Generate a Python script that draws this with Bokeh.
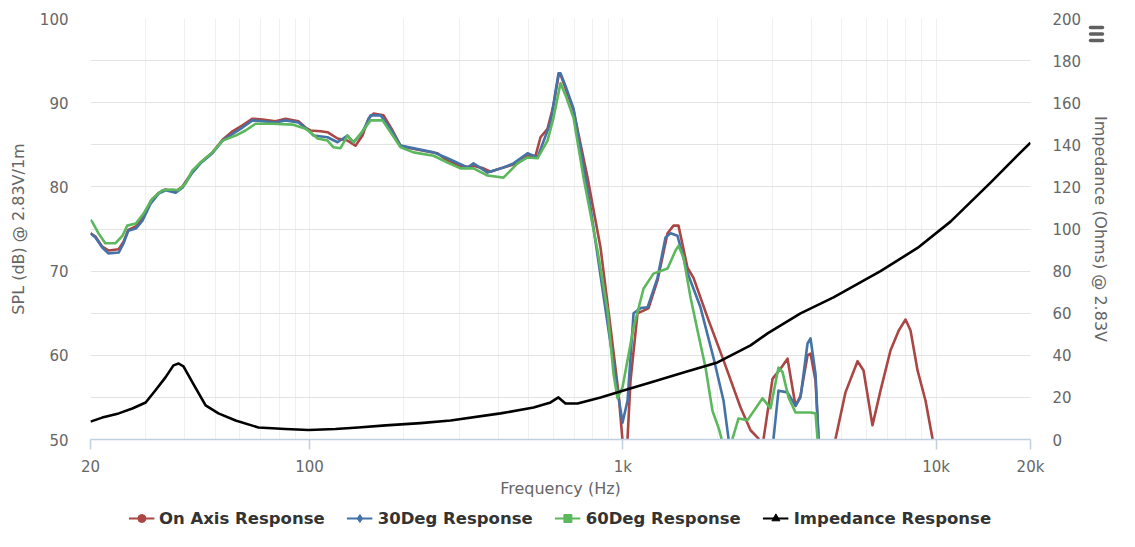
import math
from bokeh.plotting import figure
from bokeh.models import Range1d, FixedTicker, Legend, LegendItem
from bokeh.layouts import column, row
from bokeh.core.properties import value
from bokeh.embed import file_html
from bokeh.resources import INLINE

# ---------------- data ----------------
X_TICKS = [20, 100, 1000, 10000, 20000]
X_TICK_LABELS = ["20", "100", "1k", "10k", "20k"]
SPL_TICKS = [50, 60, 70, 80, 90, 100]
OHM_TICKS = [0, 20, 40, 60, 80, 100, 120, 140, 160, 180, 200]

ON_FREQ = [20, 20.74, 21.8, 22.8, 24.6, 25.5, 26.4, 27.9, 29.3, 31.1, 33.0, 34.7, 37.4, 39.3, 42.3,
           44.9, 49.0, 52.8, 56.8, 61.1, 65.8, 70.8, 77.9, 83.8, 92.2, 97.1, 100.7, 108.5, 114.1,
           122.9, 132.2, 140.2, 147.6, 154.2, 160.0, 172.3, 184.1, 195.2, 210.0, 238.0, 256.2,
           275.7, 303.3, 319.3, 333.7, 359.1, 378.1, 406.9, 461.1, 496.3, 526.4, 546.1, 574.9,
           600.8, 623.3, 632.5, 656.2, 696.0, 771.4, 848.7, 913.4, 968.7, 997.6, 1012, 1035, 1058,
           1114, 1164, 1208, 1290, 1389, 1451, 1505, 1608, 1681, 1863, 2096, 2375, 2556, 2711,
           2760, 2813, 3004, 3185, 3354, 3557, 3690, 3885, 3972, 4120, 4212, 4450, 4773, 5135,
           5611, 5864, 6262, 6642, 7151, 7584, 7985, 8283, 8721, 9248, 9736, 9900]
ON_DB = [74.5, 74.1, 72.9, 72.45, 72.6, 73.5, 74.9, 75.3, 76.25, 78.3, 79.3, 79.7, 79.45, 80.05, 81.8,
         82.9, 84.1, 85.6, 86.6, 87.3, 88.1, 88.0, 87.8, 88.1, 87.8, 87.05, 86.7, 86.6, 86.5,
         85.75, 85.5, 84.9, 86.1, 88.1, 88.7, 88.5, 86.7, 84.9, 84.6, 84.2, 84.0,
         83.1, 82.5, 82.4, 82.5, 82.2, 81.8, 82.2, 82.8, 83.7, 83.7, 85.9, 86.9,
         89.7, 93.2, 93.35, 91.7, 89.1, 81.1, 72.8, 63.3, 55.5, 49.9, 40, 50.1, 57.0,
         65.0, 65.3, 65.6, 68.9, 74.5, 75.4, 75.4, 70.4, 69.2, 64.5, 59.4, 53.8, 51.1, 50.1,
         42, 50.1, 57.2, 58.4, 59.6, 54.0, 55.2, 60.0, 60.2, 57.0, 50.1, 40, 50.1, 55.6,
         59.3, 58.2, 51.7, 55.8, 60.6, 62.9, 64.25, 62.95, 58.2, 54.6, 50.1, 45]

D30_FREQ = [20, 20.74, 21.8, 22.8, 24.6, 25.5, 26.4, 27.9, 29.3, 31.1, 33.0, 34.7, 37.4, 39.3, 42.3,
            44.9, 49.0, 52.8, 56.8, 61.1, 65.8, 70.8, 77.9, 83.8, 92.2, 99.3, 103.0, 114.1, 122.9,
            132.2, 138.2, 147.6, 156.6, 168.5, 181.4, 195.2, 248.8, 275.7, 319.3, 333.7, 369.9,
            416.0, 447.7, 496.3, 534.2, 587.7, 623.3, 632.5, 656.2, 696.0, 788.5, 913.4, 961.6,
            997.6, 1035, 1082, 1139, 1199, 1290, 1368, 1420, 1494, 1608, 1769, 1947, 2096, 2174,
            2500, 3026, 3139, 3354, 3557, 3690, 3885, 3972, 4120, 4212, 4350]
D30_DB = [74.5, 74.0, 72.8, 72.1, 72.2, 73.3, 74.8, 75.05, 76.0, 78.0, 79.2, 79.6, 79.3, 79.9, 81.7,
          82.8, 84.0, 85.5, 86.3, 87.05, 87.9, 87.8, 87.65, 87.9, 87.65, 86.7, 86.1, 85.9, 85.3,
          86.1, 85.3, 86.5, 88.5, 88.5, 86.9, 84.9, 84.1, 83.4, 82.3, 82.8, 81.7,
          82.3, 82.8, 84.0, 83.5, 87.65, 93.5, 93.5, 92.0, 89.3, 77.55, 61.4, 55.8,
          52.0, 54.6, 65.0, 65.6, 65.7, 69.2, 74.0, 74.5, 74.2, 69.8, 65.7, 59.7, 54.6, 50.1,
          35, 50.1, 55.8, 55.6, 54.0, 55.0, 61.4, 62.0, 57.8, 50.1, 42]

D60_FREQ = [20, 20.3, 21.2, 22.3, 24.0, 25.3, 26.2, 27.9, 29.5, 31.5, 33.9, 36.5, 38.2, 40.2, 42.3,
            44.9, 49.0, 52.8, 58.1, 62.5, 67.2, 76.2, 88.2, 97.1, 100.7, 106.1, 114.1, 119.3, 125.6,
            132.2, 138.2, 145.5, 156.6, 171.0, 181.4, 195.2, 214.7, 248.8, 275.7, 303.3, 333.7,
            369.9, 416.0, 461.1, 496.3, 534.2, 574.9, 600.8, 632.5, 656.2, 696.0, 749.1, 830.2,
            893.4, 933.7, 961.6, 997.6, 1082, 1164, 1252, 1389, 1473, 1505, 1562, 1644, 1731, 1836,
            1932, 2020, 2065, 2142, 2239, 2340, 2500, 2792, 2960, 3139, 3233, 3379, 3557, 3972,
            4120, 4181, 4275]
D60_DB = [76.1, 75.8, 74.5, 73.3, 73.3, 74.2, 75.4, 75.65, 76.8, 78.6, 79.6, 79.7, 79.6, 80.4, 81.95,
          82.9, 84.1, 85.5, 86.1, 86.7, 87.5, 87.5, 87.4, 86.9, 86.5, 85.75, 85.5, 84.7, 84.6,
          86.1, 85.3, 86.3, 87.9, 87.9, 86.5, 84.7, 84.1, 83.7, 82.9, 82.2, 82.2,
          81.35, 81.1, 82.8, 83.5, 83.4, 85.5, 88.2, 92.3, 90.9, 88.2, 81.1, 72.45,
          65.3, 57.8, 54.9, 56.2, 63.3, 67.9, 69.7, 70.3, 72.45, 73.0, 71.6, 66.9, 62.95, 58.55,
          53.4, 51.4, 50.1, 44, 50.1, 52.5, 52.3, 54.9, 53.7, 58.55, 58.0, 55.0, 53.2, 53.2,
          53.1, 50.1, 44]

IMP_FREQ = [20, 21.8, 24.6, 27.2, 30.0, 32.2, 34.7, 36.8, 38.2, 39.6, 42.3, 46.6, 51.2, 58.1, 68.7,
            83.8, 99.3, 121, 143, 175, 226, 282, 407, 519, 588, 623, 656, 717, 849, 1005, 1225,
            1562, 2005, 2556, 2897, 3690, 4703, 6642, 8721, 11111, 14912, 18180, 20000]
IMP_OHM = [8.5, 10.4, 12.4, 14.7, 17.6, 23.3, 29.5, 35.2, 36.1, 34.7, 27.1, 16.2, 12.4, 9.0, 5.7,
           5.0, 4.5, 5.0, 5.7, 6.7, 7.8, 9.0, 12.4, 15.2, 17.6, 20.0, 17.1, 17.1, 20.0, 23.3, 27.1,
           31.8, 36.6, 44.7, 50.4, 59.9, 67.5, 80.0, 91.0, 103.5, 122.0, 135.0, 141.0]

SERIES_NAMES = ["On Axis Response", "30Deg Response", "60Deg Response", "Impedance Response"]
X_TITLE = "Frequency (Hz)"
Y_TITLE = "SPL (dB) @ 2.83V/1m"
Y2_TITLE = "Impedance (Ohms) @ 2.83V"

# ---------------- layout / styling ----------------
RED = "#AA4643"
BLUE = "#4572A7"
GREEN = "#5CB85C"
BLACK = "#000000"
FONT = "DejaVu Sans"
TXT = "#666666"
TOTAL_W = 1119
LEG_H = 26
MAIN_H = 531 - LEG_H
FRAME_L, FRAME_R, FRAME_T, FRAME_B = 90, 1030, 18, 439
MAIN_RB = 20                      # room for the "20k" label right of the frame
MAIN_W = FRAME_R + MAIN_RB
RIGHT_W = TOTAL_W - MAIN_W

p = figure(width=MAIN_W, height=MAIN_H, x_axis_type="log",
           x_range=Range1d(20, 20000), y_range=Range1d(50, 100),
           output_backend="svg", toolbar_location=None,
           min_border_left=FRAME_L, min_border_right=MAIN_RB, min_border_top=FRAME_T,
           min_border_bottom=MAIN_H - FRAME_B)
p.extra_y_ranges = {"imp": Range1d(0, 200)}
p.outline_line_color = None
p.background_fill_color = "white"
p.border_fill_color = "white"

# x axis
minor_x = [m * d for d in (10, 100, 1000, 10000) for m in range(2, 10)]
minor_x = [v for v in minor_x if 20 < v < 20000 and v not in X_TICKS]
xt = FixedTicker(ticks=X_TICKS, minor_ticks=minor_x)
p.xaxis.ticker = xt
p.xgrid.ticker = xt
p.xaxis.major_label_overrides = {t: l for t, l in zip(X_TICKS, X_TICK_LABELS)}
p.xaxis.axis_label = X_TITLE
p.xaxis.axis_line_color = "#C0D0E0"
p.xaxis.axis_line_width = 1.5
p.xaxis.major_tick_line_color = "#C0D0E0"
p.xaxis.major_tick_line_width = 1.5
p.xaxis.major_tick_in = 0
p.xaxis.major_tick_out = 10
p.xaxis.minor_tick_line_color = None
p.xaxis.major_label_standoff = 8
p.xaxis.axis_label_standoff = 0
p.xgrid.grid_line_color = "#f0f0f0"
p.xgrid.minor_grid_line_color = "#f0f0f0"

# left y axis
p.yaxis.ticker = FixedTicker(ticks=SPL_TICKS, minor_ticks=[])
p.ygrid.ticker = FixedTicker(ticks=list(range(50, 101, 5)))
p.ygrid.grid_line_color = "#e3e3e3"
p.yaxis.axis_label = Y_TITLE
p.yaxis.axis_line_color = None
p.yaxis.major_tick_line_color = None
p.yaxis.minor_tick_line_color = None
p.yaxis.major_tick_out = 0
p.yaxis.major_label_standoff = 22
p.yaxis.axis_label_standoff = 9

for ax in [p.xaxis[0], p.yaxis[0]]:
    ax.major_label_text_font = FONT
    ax.major_label_text_font_size = "15px"
    ax.major_label_text_color = TXT
    ax.axis_label_text_font = FONT
    ax.axis_label_text_font_size = "16px"
    ax.axis_label_text_font_style = "normal"
    ax.axis_label_text_color = TXT

# ---------------- series ----------------
lw = 2.6
p.line(ON_FREQ, ON_DB, line_color=RED, line_width=lw, line_join="round")
p.line(D30_FREQ, D30_DB, line_color=BLUE, line_width=lw, line_join="round")
p.line(D60_FREQ, D60_DB, line_color=GREEN, line_width=lw, line_join="round")
p.line(IMP_FREQ, IMP_OHM, line_color=BLACK, line_width=lw, line_join="round", y_range_name="imp")

# ---------------- right (impedance) axis strip ----------------
ohm_per_px = 200.0 / (FRAME_B - FRAME_T)
pr = figure(width=RIGHT_W, height=MAIN_H, output_backend="svg", toolbar_location=None,
            x_range=Range1d(0, RIGHT_W), min_border=0)
try:
    pr.frame_align = False          # let this strip use its whole height as frame
    pr.y_range = Range1d(-(MAIN_H - FRAME_B) * ohm_per_px, 200 + FRAME_T * ohm_per_px)
except Exception:
    pr.y_range = Range1d(0, 200)    # frame aligned with the chart frame
pr.axis.visible = False
pr.grid.visible = False
pr.outline_line_color = None
pr.background_fill_color = "white"
pr.border_fill_color = "white"
lab_x = 22 - MAIN_RB
pr.text(x=[lab_x] * len(OHM_TICKS), y=OHM_TICKS, text=[str(t) for t in OHM_TICKS],
        text_font=value(FONT), text_font_size="15px", text_color=TXT,
        text_align="left", text_baseline="middle")
pr.text(x=[70 - MAIN_RB], y=[100], text=[Y2_TITLE], angle=-math.pi / 2,
        text_font=value(FONT), text_font_size="16px", text_color=TXT,
        text_align="center", text_baseline="middle")
# export-menu icon (three rounded bars)
icon_y = [(FRAME_B - yy) * ohm_per_px for yy in (27, 33.5, 40)]
pr.segment(x0=[60 - MAIN_RB] * 3, x1=[72 - MAIN_RB] * 3, y0=icon_y, y1=icon_y,
           line_color="#606060", line_width=3.5, line_cap="round")

# ---------------- legend strip ----------------
lg = figure(width=TOTAL_W, height=LEG_H, output_backend="svg", toolbar_location=None,
            x_range=Range1d(-2, -1), y_range=Range1d(-2, -1), min_border=0)
lg.axis.visible = False
lg.grid.visible = False
lg.outline_line_color = None
lg.background_fill_color = "white"
lg.border_fill_color = "white"

series = [(ON_FREQ, ON_DB, RED, "circle"), (D30_FREQ, D30_DB, BLUE, "diamond"),
          (D60_FREQ, D60_DB, GREEN, "square"), (IMP_FREQ, IMP_OHM, BLACK, "triangle")]
items = []
for (xs, ys, col, mk), name in zip(series, SERIES_NAMES):
    rl = lg.line(xs, ys, line_color=col, line_width=2)
    rm = lg.scatter(xs, ys, marker=mk, size=8, color=col)
    items.append(LegendItem(label=name, renderers=[rl, rm]))

legend = Legend(items=items, orientation="horizontal", location="center",
                padding=0, margin=0, spacing=22, glyph_width=26, glyph_height=20,
                label_standoff=5, label_height=20,
                label_text_font=FONT, label_text_font_size="16.5px",
                label_text_font_style="bold", label_text_color="#333333",
                border_line_color=None, background_fill_alpha=0)
lg.add_layout(legend, "center")

layout = column(row(p, pr, spacing=0), lg, spacing=0)
open("out.html", "w").write(file_html(layout, INLINE))
